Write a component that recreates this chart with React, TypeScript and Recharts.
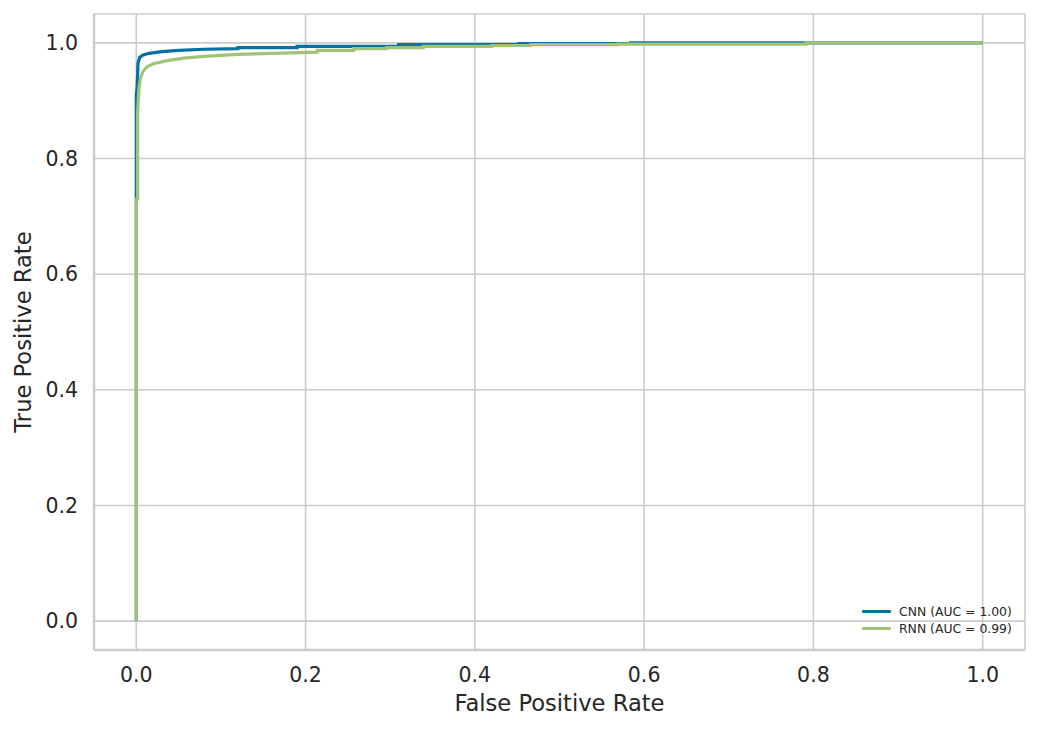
import React from 'react';
import { LineChart, Line, XAxis, YAxis, CartesianGrid, Legend, Label } from 'recharts';

// ROC curve points (false positive rate, true positive rate)
const cnnFpr = [0, 0, 0.001, 0.002, 0.004, 0.008, 0.015, 0.03, 0.05, 0.08, 0.12, 0.12, 0.19, 0.19, 0.31, 0.31, 0.452, 0.452, 0.584, 0.584, 1.0];
const cnnTpr = [0, 0.91, 0.925, 0.965, 0.975, 0.979, 0.982, 0.985, 0.987, 0.989, 0.99, 0.992, 0.992, 0.994, 0.994, 0.997, 0.997, 0.999, 0.999, 1.0, 1.0];

const rnnFpr = [0, 0, 0.0015, 0.0015, 0.003, 0.005, 0.008, 0.012, 0.02, 0.035, 0.058, 0.085, 0.12, 0.16, 0.214, 0.214, 0.257, 0.257, 0.296, 0.296, 0.339, 0.339, 0.42, 0.42, 0.466, 0.466, 0.568, 0.568, 0.791, 0.791, 1.0];
const rnnTpr = [0, 0.73, 0.73, 0.88, 0.92, 0.94, 0.951, 0.958, 0.964, 0.969, 0.974, 0.977, 0.98, 0.982, 0.984, 0.987, 0.987, 0.99, 0.99, 0.992, 0.992, 0.994, 0.994, 0.9955, 0.9955, 0.997, 0.997, 0.998, 0.998, 1.0, 1.0];

const seriesNames = ['CNN (AUC = 1.00)', 'RNN (AUC = 0.99)'];
const axisTicks = [0, 0.2, 0.4, 0.6, 0.8, 1.0];
const xLabel = 'False Positive Rate';
const yLabel = 'True Positive Rate';

const cnnData = cnnFpr.map((f, i) => ({ fpr: f, tpr: cnnTpr[i] }));
const rnnData = rnnFpr.map((f, i) => ({ fpr: f, tpr: rnnTpr[i] }));

const FONT = '"DejaVu Sans", Verdana, sans-serif';
const TEXT = '#262626';
const GRID = '#cccccc';

const tickStyle = { fontFamily: FONT, fontSize: 20.5, fill: TEXT };

const XLabelContent = (props: any) => {
  const vb = props.viewBox || {};
  return (
    <text x={vb.x + vb.width / 2} y={vb.y + 61} textAnchor="middle" fontFamily={FONT} fontSize={22.6} fill={TEXT}>
      {xLabel}
    </text>
  );
};

const YLabelContent = (props: any) => {
  const vb = props.viewBox || {};
  const cx = vb.x + 31;
  const cy = vb.y + vb.height / 2;
  return (
    <text x={cx} y={cy} textAnchor="middle" transform={`rotate(-90, ${cx}, ${cy})`} fontFamily={FONT} fontSize={22.6} fill={TEXT}>
      {yLabel}
    </text>
  );
};

const LegendContent = (props: any) => {
  const payload = props.payload || [];
  return (
    <div style={{ fontFamily: FONT, fontSize: 12.4, color: TEXT }}>
      {payload.map((p: any, i: number) => (
        <div key={i} style={{ height: 17.3, display: 'flex', alignItems: 'center', whiteSpace: 'nowrap' }}>
          <span style={{ display: 'inline-block', width: 29, height: 3, background: p.color, marginRight: 8, borderRadius: 1 }} />
          <span>{p.value}</span>
        </div>
      ))}
    </div>
  );
};

export default function App() {
  return (
    <div style={{ width: 1039, height: 731, background: '#ffffff' }}>
      <style>{`body{margin:0;background:#fff}`}</style>
      <LineChart width={1039} height={731} margin={{ top: 14, right: 14, bottom: 0, left: 0 }}>
        <CartesianGrid stroke={GRID} strokeWidth={1.6} />
        <XAxis
          dataKey="fpr"
          type="number"
          domain={[-0.05, 1.05]}
          ticks={axisTicks}
          allowDataOverflow
          height={81}
          tickLine={false}
          tickSize={0}
          tickMargin={17}
          axisLine={{ stroke: GRID, strokeWidth: 2.5 }}
          tick={tickStyle}
          tickFormatter={(v: number) => v.toFixed(1)}
        >
          <Label content={<XLabelContent />} />
        </XAxis>
        <XAxis
          xAxisId="top"
          orientation="top"
          type="number"
          domain={[-0.05, 1.05]}
          height={0}
          tick={false}
          tickLine={false}
          axisLine={{ stroke: GRID, strokeWidth: 2.5 }}
        />
        <YAxis
          type="number"
          domain={[-0.05, 1.05]}
          ticks={axisTicks}
          allowDataOverflow
          width={94}
          tickLine={false}
          tickSize={0}
          tickMargin={16}
          axisLine={{ stroke: GRID, strokeWidth: 2.5 }}
          tick={tickStyle}
          tickFormatter={(v: number) => v.toFixed(1)}
        >
          <Label content={<YLabelContent />} />
        </YAxis>
        <YAxis
          yAxisId="right"
          orientation="right"
          type="number"
          domain={[-0.05, 1.05]}
          width={0}
          tick={false}
          tickLine={false}
          axisLine={{ stroke: GRID, strokeWidth: 2.5 }}
        />
        <Line
          data={cnnData}
          dataKey="tpr"
          name={seriesNames[0]}
          type="linear"
          stroke="#0272a2"
          strokeWidth={3.2}
          dot={false}
          activeDot={false}
          isAnimationActive={false}
        />
        <Line
          data={rnnData}
          dataKey="tpr"
          name={seriesNames[1]}
          type="linear"
          stroke="#9fc377"
          strokeWidth={3.2}
          dot={false}
          activeDot={false}
          isAnimationActive={false}
        />
        <Legend
          layout="horizontal"
          verticalAlign="middle"
          align="center"
          content={<LegendContent />}
          wrapperStyle={{ left: 862, top: 603, width: 170, height: 36 }}
        />
      </LineChart>
    </div>
  );
}
